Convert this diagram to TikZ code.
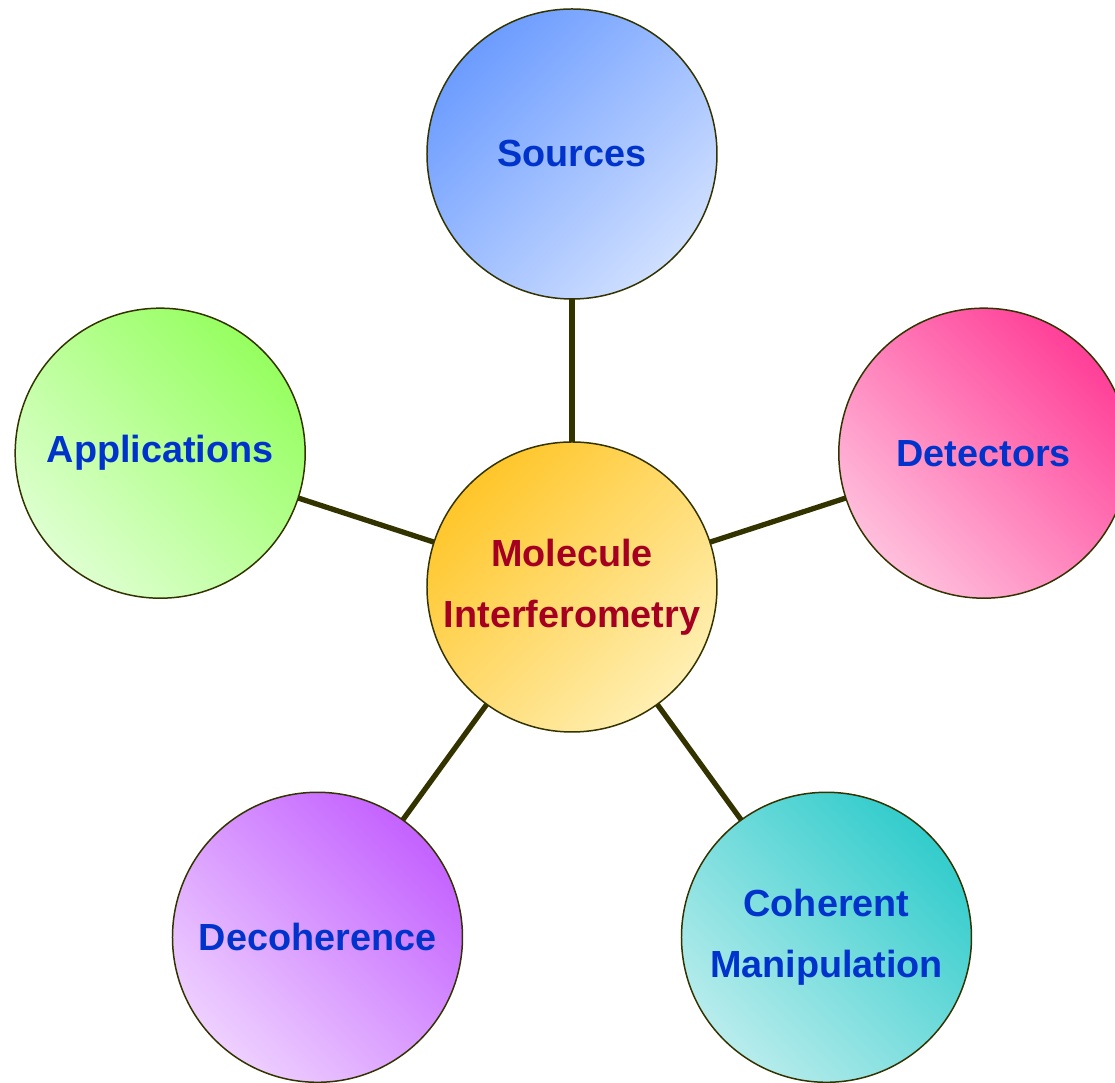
\documentclass[tikz,border=0pt]{standalone}
\usepackage{fontspec}
\setmainfont{Liberation Sans}

\definecolor{rimcol}{HTML}{333300}
\definecolor{textblue}{HTML}{0033CC}
\definecolor{textred}{HTML}{A50021}
%% shades: dark, mid, light
\definecolor{hubA}{HTML}{FFC62A}\definecolor{hubB}{HTML}{FFE9A2}\definecolor{hubC}{HTML}{FFEFB2}
\definecolor{srcA}{HTML}{6C9CFF}\definecolor{srcB}{HTML}{BED4FF}\definecolor{srcC}{HTML}{CFDFFF}
\definecolor{detA}{HTML}{FF3F98}\definecolor{detB}{HTML}{FF8ABD}\definecolor{detC}{HTML}{FFBFDC}
\definecolor{cohA}{HTML}{33CCCC}\definecolor{cohB}{HTML}{80DCDC}\definecolor{cohC}{HTML}{B8ECEC}
\definecolor{decA}{HTML}{C462FF}\definecolor{decB}{HTML}{DA9CFF}\definecolor{decC}{HTML}{EED0FF}
\definecolor{appA}{HTML}{96FF60}\definecolor{appB}{HTML}{BCFF9A}\definecolor{appC}{HTML}{DEFFD0}

\tikzset{
	bubble/.style={circle, draw=rimcol, line width=0.85pt, minimum size=5.8cm,
		inner sep=0pt, outer sep=0pt, align=center, text=textblue,
		font=\bfseries\fontsize{21.5}{34.7}\selectfont},
	tint/.style n args={3}{top color=#1, middle color=#2, bottom color=#3},
	spoke/.style={draw=rimcol, line width=3pt}
}

\begin{document}
\begin{tikzpicture}
	\useasboundingbox (-11.44, -9.92) rectangle (10.86, 11.74);

	%%the hub
	\node[bubble, text=textred, tint={hubA}{hubB}{hubC}, shading angle=45] (hub) at (0, 0)
		{Molecule\\Interferometry};

	%%the five topics round it
	\node[bubble, tint={srcA}{srcB}{srcC}, shading angle=45] (sources) at (0, 8.66) {Sources};
	\node[bubble, tint={detA}{detB}{detC}, shading angle=-45] (detectors) at (8.236, 2.676) {Detectors};
	\node[bubble, tint={cohA}{cohB}{cohC}, shading angle=-45] (coherent) at (5.09, -7.006)
		{Coherent\\Manipulation};
	\node[bubble, tint={decA}{decB}{decC}, shading angle=-45] (decoherence) at (-5.09, -7.006) {Decoherence};
	\node[bubble, tint={appA}{appB}{appC}, shading angle=-45] (applications) at (-8.236, 2.676) {Applications};

	%%draw the spokes
	\draw[spoke] (hub) -- (sources);
	\draw[spoke] (hub) -- (detectors);
	\draw[spoke] (hub) -- (coherent);
	\draw[spoke] (hub) -- (decoherence);
	\draw[spoke] (hub) -- (applications);
\end{tikzpicture}
\end{document}
